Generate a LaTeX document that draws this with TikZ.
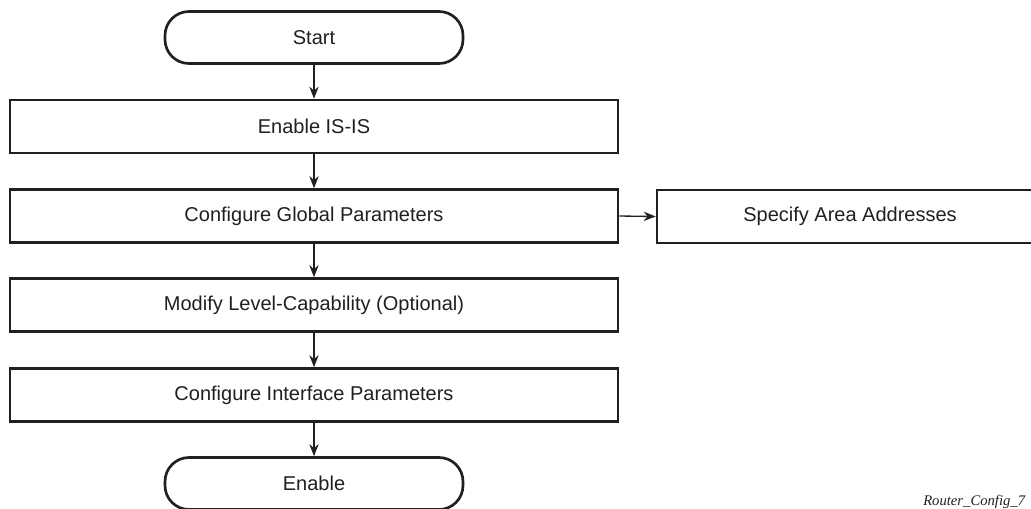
\documentclass[tikz,border=0pt]{standalone}
\usepackage{fontspec}
\setmainfont{Liberation Sans}
\newfontfamily\figserif{Liberation Serif}
\usetikzlibrary{arrows.meta}
\definecolor{ink}{HTML}{231F20}
\begin{document}
\begin{tikzpicture}[x=0.75pt,y=-0.75pt,
  box/.style={draw=ink,line width=2pt,minimum width=456pt,minimum height=39.75pt,inner sep=0pt,font=\fontsize{15}{17}\selectfont,text=ink},
  term/.style={draw=ink,line width=2pt,minimum width=223.5pt,minimum height=39pt,rounded corners=18pt,inner sep=0pt,font=\fontsize{15}{17}\selectfont,text=ink},
  arr/.style={draw=ink,line width=1pt,-{Stealth[length=9pt,width=7pt]}}]
\useasboundingbox (0,0) rectangle (1031,508);
\clip (0,0) rectangle (1031,508);
\fill[white] (0,0) rectangle (1031,508);
\node[term] (start) at (314,37.5) {Start};
\node[box] (isis) at (314,126.5) {Enable IS-IS};
\node[box] (glob) at (314,216) {Configure Global Parameters};
\node[box,minimum width=289.5pt] (area) at (850,216.5) {Specify Area Addresses};
\node[box] (lvl) at (314,305) {Modify Level-Capability (Optional)};
\node[box] (intf) at (314,395) {Configure Interface Parameters};
\node[term] (en) at (314,483.5) {Enable};
\draw[arr] (start) -- (isis);
\draw[arr] (isis) -- (glob);
\draw[arr] (glob) -- (lvl);
\draw[arr] (lvl) -- (intf);
\draw[arr] (intf) -- (en);
\draw[arr] (glob.east) -- (area.west);
\node[anchor=base west,inner sep=0pt,font=\figserif\itshape\fontsize{11}{13}\selectfont,text=ink] (lbl) at (923,505) {Router\_Config\_7};
\end{tikzpicture}
\end{document}
